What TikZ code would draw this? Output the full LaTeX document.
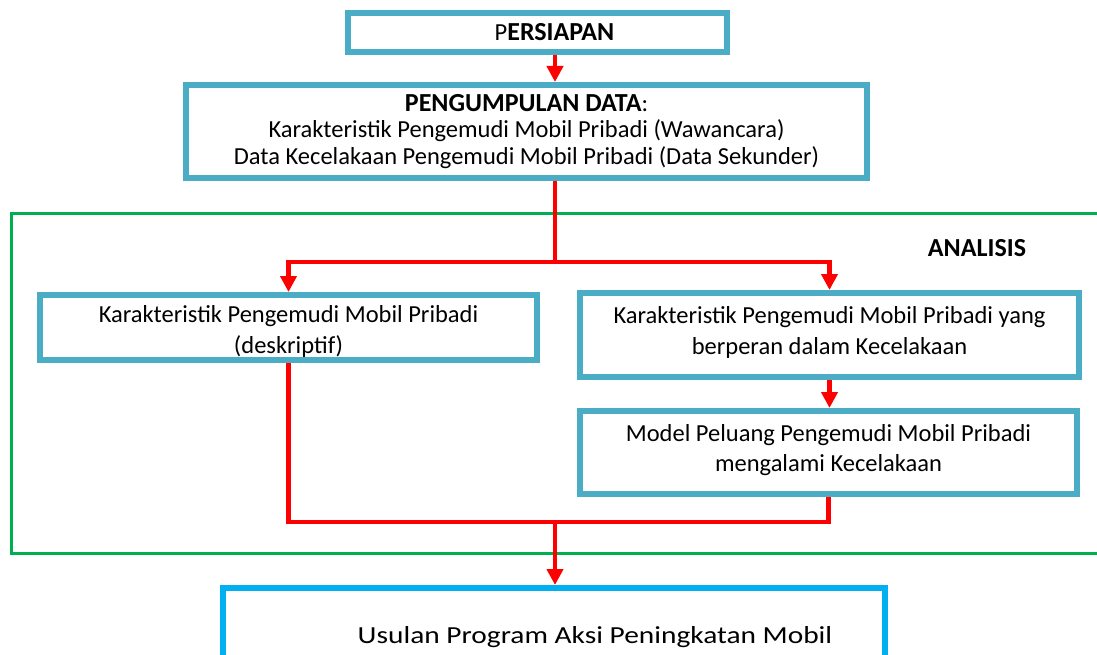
\documentclass[tikz,border=0pt]{standalone}
\usepackage{fontspec}
\setmainfont{Carlito}
\usetikzlibrary{arrows.meta}
\definecolor{boxaqua}{RGB}{75,172,198}
\definecolor{boxcyan}{RGB}{0,176,240}
\definecolor{frgreen}{RGB}{0,176,80}
\tikzset{
  stage/.style={
    draw=boxaqua, line width=6pt, fill=white,
    align=center, inner sep=0pt,
    font=\fontsize{24.5}{26.5}\selectfont,
  },
  twoline/.style={
    stage, font=\fontsize{24.5}{30.5}\selectfont,
  },
  wire/.style={
    color=red, line width=4.5pt,
  },
  flow/.style={
    wire, -{Triangle[length=16pt,width=16pt]},
  }
}
\newcommand{\heavy}[1]{{\fontsize{26}{26.5}\selectfont\bfseries #1}}
\newcommand{\lift}{\rule[-9pt]{0pt}{9pt}}
\newcommand{\drop}{\rule{0pt}{25pt}}
\begin{document}
\begin{tikzpicture}[x=1pt,y=1pt,yscale=-1,xscale=1]
\useasboundingbox (0,0) rectangle (1097,655);
\coordinate (spine) at (555,0);
%Shape: Rectangle [frame analisis]
\draw [color=frgreen, line width=3pt] (1110,213.5) -- (11.5,213.5) -- (11.5,553.5) -- (1110,553.5);
% Text Node
\node (analisis) at (977,248) [font=\fontsize{24.5}{26.5}\selectfont] {\heavy{ANALISIS}};

% Boxes
\node (persiapan) at (537.5,32.5) [stage, minimum width=379pt, minimum height=39pt] {\hspace*{34pt}P\heavy{ERSIAPAN}};
\node (data) at (526.5,131.5) [stage, minimum width=681pt, minimum height=93pt] {\heavy{PENGUMPULAN DATA}:\\Karakteristik Pengemudi Mobil Pribadi (Wawancara)\\Data Kecelakaan Pengemudi Mobil Pribadi (Data Sekunder)};
\node (deskriptif) at (288.5,327.5) [twoline, minimum width=497pt, minimum height=65pt] {\drop Karakteristik Pengemudi Mobil Pribadi\\(deskriptif)};
\node (berperan) at (829.5,335) [twoline, minimum width=499pt, minimum height=84pt] {Karakteristik Pengemudi Mobil Pribadi yang\\berperan dalam Kecelakaan\lift};
\node (model) at (828.5,452.5) [twoline, minimum width=497pt, minimum height=83pt] {Model Peluang Pengemudi Mobil Pribadi\\mengalami Kecelakaan\lift};
\node (usulan) at (554,637.5) [stage, draw=boxcyan, minimum width=662pt, minimum height=99pt] {\hspace*{82pt}\addfontfeature{FakeStretch=1.2}Usulan Program Aksi Peningkatan Mobil};

% Connectors
\coordinate (split) at (555,262);
\coordinate (merge) at (555,522);
\draw [flow] (persiapan.south -| spine) -- (data.north -| spine);
\draw [wire] (data.south -| spine) -- (split);
\draw [flow] (split) -| (deskriptif.north);
\draw [flow] (split) -| (berperan.north);
\draw [flow] (berperan.south) -- (berperan.south |- model.north);
\draw [wire] (deskriptif.south) |- (model.south |- merge) -- (model.south);
\draw [flow] (merge) -- (usulan.north -| merge);

\end{tikzpicture}
\end{document}
